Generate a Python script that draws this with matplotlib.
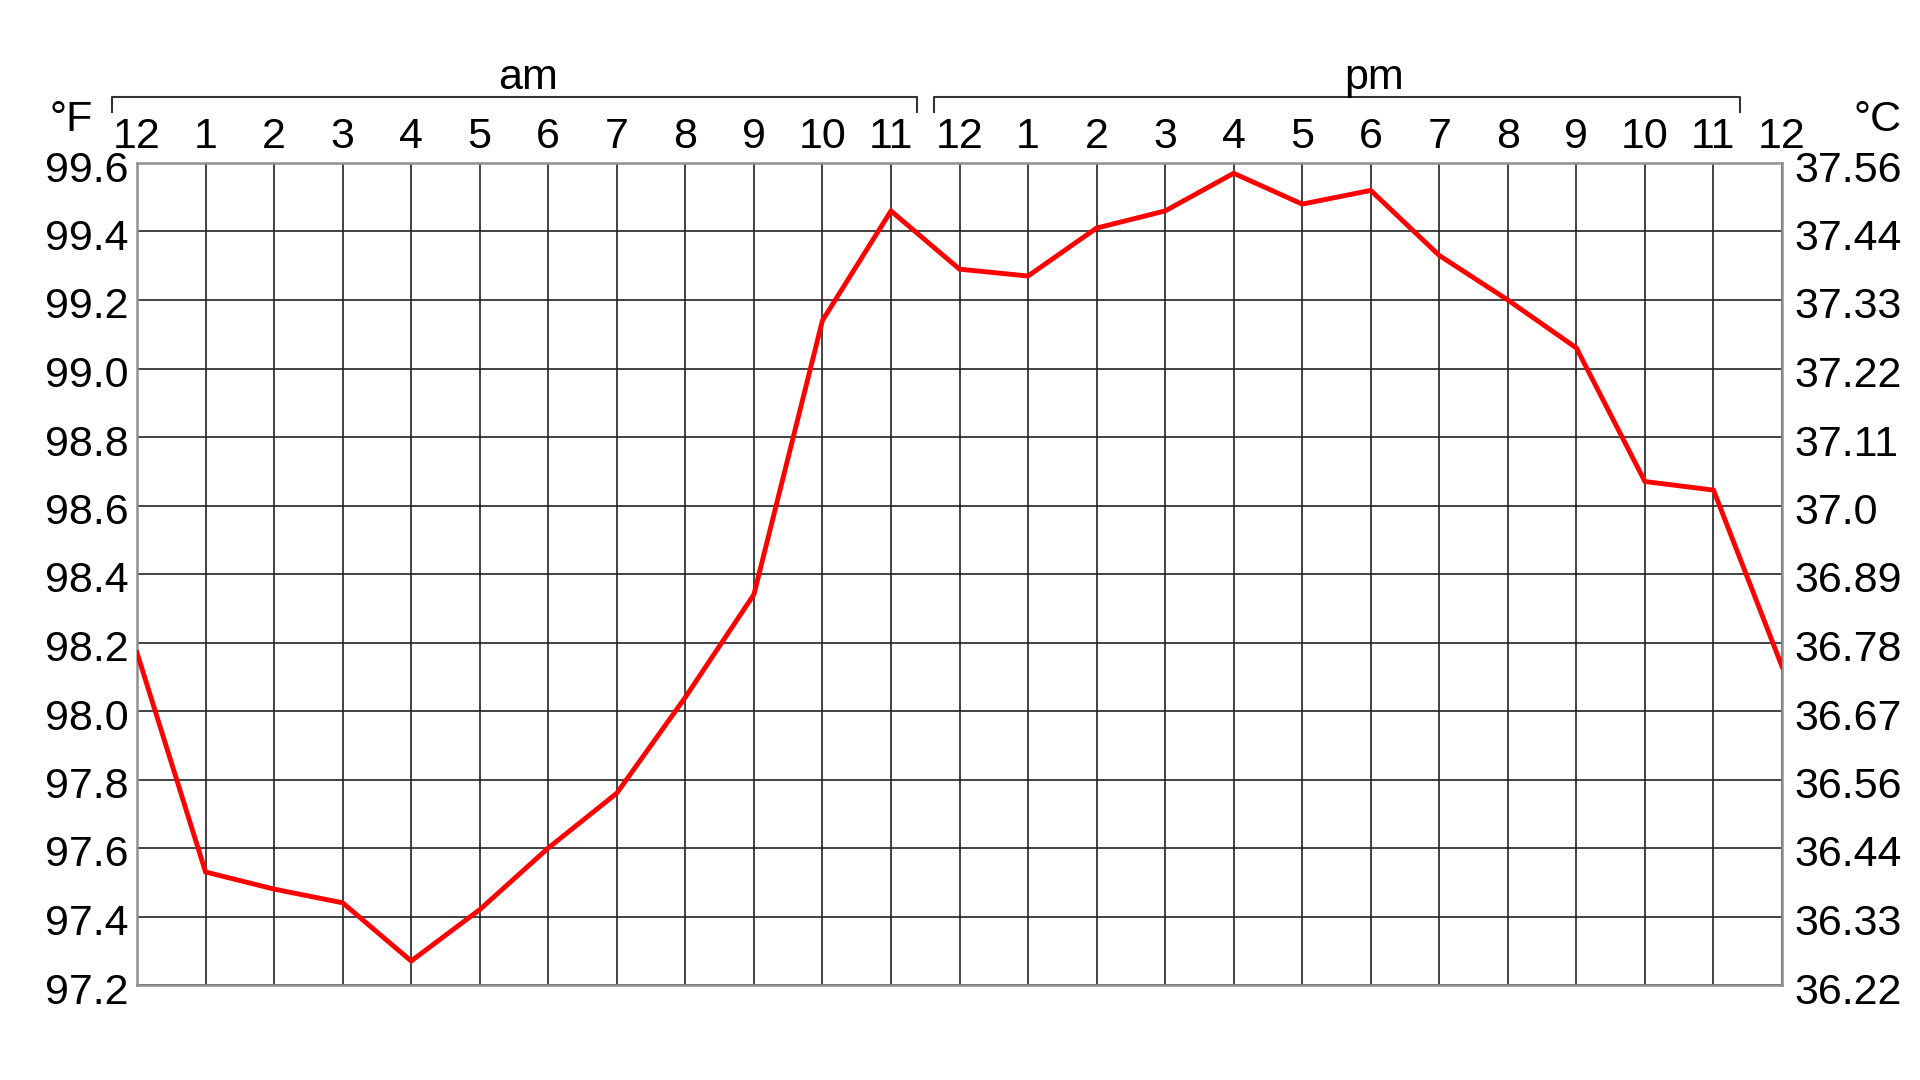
import matplotlib
matplotlib.use('Agg')
import matplotlib.pyplot as plt
import matplotlib.transforms as mtransforms

plt.rcParams['font.family'] = ['Liberation Sans', 'DejaVu Sans']

# hourly body temperature, midnight to midnight (deg F)
hours = list(range(25))
hour_labels = ['12', '1', '2', '3', '4', '5', '6', '7', '8', '9', '10', '11',
               '12', '1', '2', '3', '4', '5', '6', '7', '8', '9', '10', '11', '12']
temp_f = [98.17, 97.53, 97.48, 97.44, 97.27, 97.42, 97.60, 97.76, 98.04, 98.34,
          99.14, 99.46, 99.29, 99.27, 99.41, 99.46, 99.57, 99.48, 99.52, 99.33,
          99.20, 99.06, 98.67, 98.645, 98.13]

f_ticks = [97.2, 97.4, 97.6, 97.8, 98.0, 98.2, 98.4, 98.6, 98.8, 99.0, 99.2, 99.4, 99.6]
f_labels = ['97.2', '97.4', '97.6', '97.8', '98.0', '98.2', '98.4', '98.6',
            '98.8', '99.0', '99.2', '99.4', '99.6']
c_labels = ['36.22', '36.33', '36.44', '36.56', '36.67', '36.78', '36.89', '37.0',
            '37.11', '37.22', '37.33', '37.44', '37.56']

periods = ['am', 'pm']
period_hours = [(0, 11), (12, 23)]
period_label_x = [5.7, 18.05]

FS = 31
W, H = 1920, 1080
fig = plt.figure(figsize=(W / 100, H / 100), dpi=100)
ax = fig.add_axes([137 / W, 1 - 985 / H, (1782 - 137) / W, (985 - 163) / H])

ax.plot(hours, temp_f, color='red', linewidth=3.5, solid_joinstyle='miter', zorder=3)

ax.set_xlim(0, 24)
ax.set_ylim(97.2, 99.6)
ax.xaxis.tick_top()
ax.set_xticks(hours)
ax.set_xticklabels(hour_labels, fontsize=FS)
ax.set_yticks(f_ticks)
ax.set_yticklabels(f_labels, fontsize=FS)
ax.tick_params(axis='x', length=0, pad=4)
ax.tick_params(axis='y', length=0, pad=6)
ax.grid(True, color='#222222', linewidth=1.2)
for s in ax.spines.values():
    s.set_color('#909090')
    s.set_linewidth(1.8)

ax2 = ax.twinx()
ax2.set_ylim(ax.get_ylim())
ax2.set_yticks(f_ticks)
ax2.set_yticklabels(c_labels, fontsize=FS)
ax2.tick_params(axis='y', length=0, pad=9)
for s in ax2.spines.values():
    s.set_visible(False)

# nudge the value labels a little below their grid lines
shift = mtransforms.ScaledTranslation(0, -3 / 100, fig.dpi_scale_trans)
for lab in ax.get_yticklabels() + ax2.get_yticklabels():
    lab.set_transform(lab.get_transform() + shift)

# unit labels
fig.text(71 / W, 1 - 120 / H, '°F', fontsize=FS, ha='center', va='center')
fig.text(1878 / W, 1 - 120 / H, '°C', fontsize=FS, ha='center', va='center')

# am / pm brackets above the hour labels
trans = mtransforms.blended_transform_factory(ax.transData, fig.transFigure)
y_top = 1 - 97 / H
y_tick = 1 - 112 / H
for name, (h0, h1), lx in zip(periods, period_hours, period_label_x):
    x0, x1 = h0 - 0.37, h1 + 0.38
    ax.plot([x0, x0, x1, x1], [y_tick, y_top, y_top, y_tick], transform=trans,
            color='#333333', linewidth=1.5, clip_on=False)
    ax.text(lx, 1 - 89 / H, name, transform=trans, fontsize=FS,
            ha='center', va='baseline')

fig.savefig('out.png', dpi=100)
